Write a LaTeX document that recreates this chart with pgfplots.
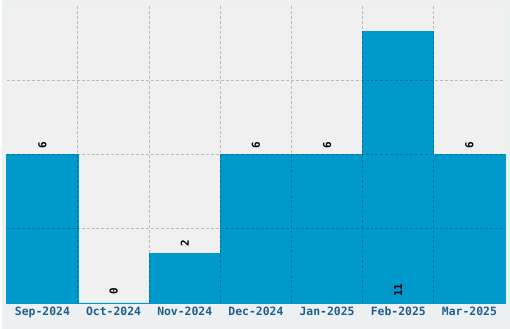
\documentclass[border=0pt]{standalone}
\usepackage{pgfplots}
\pgfplotsset{compat=1.18}
\usepackage{fontspec}
\setmainfont{Liberation Sans}
\newfontfamily\monofont{DejaVu Sans Mono}
\definecolor{outerbg}{HTML}{ECF0F1}
\definecolor{plotbg}{HTML}{F0F0F0}
\definecolor{barcol}{HTML}{0099CC}
\definecolor{ticklab}{HTML}{1F5F8F}
\begin{document}
\begin{tikzpicture}
\fill[outerbg] (0,0) rectangle (510bp,330bp);
\begin{axis}[
  at={(5bp,26bp)}, anchor=south west,
  scale only axis, width=500bp, height=299bp,
  xmin=-0.5, xmax=6.5, ymin=0, ymax=12.06,
  axis background/.style={fill=plotbg},
  axis line style={draw=none},
  xtick={0,...,6},
  xticklabels={Sep-2024,Oct-2024,Nov-2024,Dec-2024,Jan-2025,Feb-2025,Mar-2025},
  minor xtick={0.5,1.5,...,5.5},
  ytick={3,6,9},
  yticklabels={},
  major tick length=0pt, minor tick length=0pt,
  xmajorgrids=false, xminorgrids=true, ymajorgrids=true,
  grid style={black, opacity=0.22, line width=1bp, dash pattern=on 3bp off 2bp},
  minor grid style={black, opacity=0.22, line width=1bp, dash pattern=on 3bp off 2bp},
  axis on top,
  xticklabel style={font=\monofont\bfseries\fontsize{11.5}{12}\selectfont, text=ticklab, yshift=-0.5bp},
  clip=false,
]
\addplot[ybar, bar width=1, bar shift=0pt, fill=barcol, draw=barcol, line width=0.8bp]
  coordinates {(0,6) (1,0) (2,2) (3,6) (4,6) (5,11) (6,6)};
\addplot[draw=none, mark=none, nodes near coords, point meta=explicit symbolic,
  nodes near coords align=horizontal,
  every node near coord/.append style={rotate=90, anchor=west, inner sep=0pt,
    font=\monofont\bfseries\fontsize{11}{12}\selectfont, text=black}]
  table[meta=lab] {
x y lab
0 6.24 6
1 0.32 0
2 2.28 2
3 6.24 6
4 6.24 6
5 0.24 11
6 6.24 6
};
\end{axis}
\end{tikzpicture}
\end{document}
